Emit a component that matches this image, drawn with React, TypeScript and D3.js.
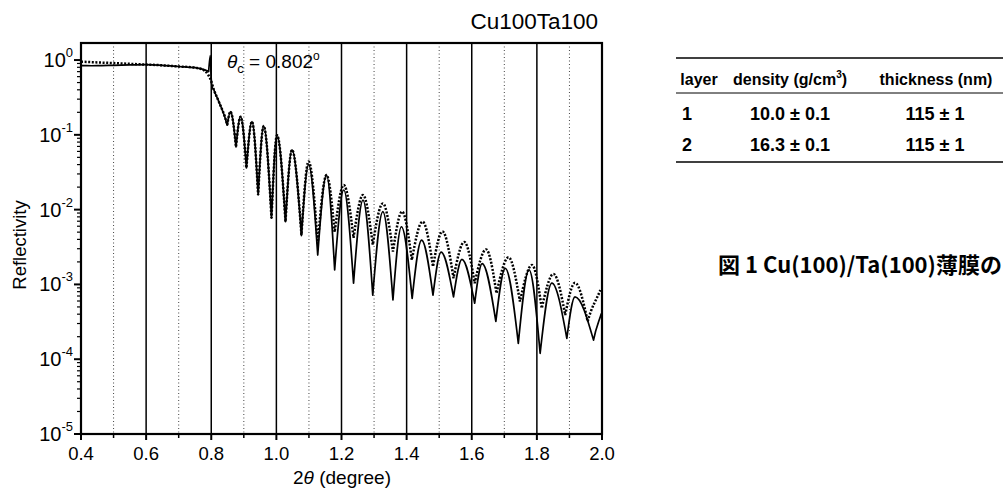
import React from "react";
import * as d3 from "d3";

// reflectivity curve of the Cu/Ta film
const fitAngle = [
  0.4, 0.45, 0.5, 0.55, 0.6, 0.65, 0.7, 0.75, 0.78, 0.79, 0.8, 0.808, 0.823,
  0.849, 0.859, 0.876, 0.89, 0.908, 0.925, 0.944, 0.961, 0.985, 1.002, 1.028,
  1.048, 1.077, 1.099, 1.127, 1.154, 1.179, 1.207, 1.237, 1.266, 1.296, 1.327,
  1.358, 1.386, 1.416, 1.449, 1.481, 1.51, 1.544, 1.577, 1.609, 1.644, 1.676,
  1.713, 1.748, 1.785, 1.815, 1.851, 1.887, 1.917, 1.956, 1.995,
];
const fitR = [
  0.95, 0.93, 0.91, 0.89, 0.87, 0.85, 0.82, 0.79, 0.72, 0.64, 0.52, 0.4, 0.28,
  0.135, 0.204, 0.069, 0.175, 0.036, 0.15, 0.0157, 0.131, 0.0077, 0.099, 0.0069,
  0.063, 0.0046, 0.044, 0.0035, 0.029, 0.005, 0.0213, 0.0042, 0.0157, 0.0034,
  0.0121, 0.00275, 0.0094, 0.00212, 0.0069, 0.00173, 0.0051, 0.00121, 0.0037,
  0.00104, 0.00294, 0.00076, 0.0023, 0.00059, 0.00182, 0.00048, 0.00138,
  0.00039, 0.00105, 0.00032, 0.00084,
];

const measAngle = [
  0.4, 0.45, 0.5, 0.55, 0.6, 0.65, 0.7, 0.75, 0.78, 0.792, 0.797, 0.8, 0.808,
  0.823, 0.849, 0.859, 0.876, 0.89, 0.908, 0.925, 0.944, 0.961, 0.985, 1.002,
  1.028, 1.048, 1.077, 1.099, 1.127, 1.154, 1.179, 1.207, 1.237, 1.266, 1.296,
  1.327, 1.358, 1.384, 1.417, 1.446, 1.481, 1.506, 1.544, 1.57, 1.609, 1.632,
  1.674, 1.703, 1.743, 1.776, 1.81, 1.846, 1.892, 1.917, 1.974, 1.998,
];
const measR = [
  0.84, 0.84, 0.85, 0.86, 0.87, 0.85, 0.82, 0.79, 0.74, 0.7, 1.15, 0.55, 0.4,
  0.28, 0.135, 0.204, 0.069, 0.175, 0.036, 0.15, 0.0157, 0.131, 0.0077, 0.099,
  0.0069, 0.063, 0.0045, 0.04, 0.00247, 0.029, 0.00156, 0.0183, 0.00104, 0.0134,
  0.00072, 0.0094, 0.00062, 0.0059, 0.00065, 0.0039, 0.00072, 0.0027, 0.00068,
  0.00216, 0.00056, 0.0019, 0.00032, 0.00164, 0.000163, 0.00156, 0.00012,
  0.00104, 0.00019, 0.00068, 0.00018, 0.00041,
];

const xMajor = [0.4, 0.6, 0.8, 1.0, 1.2, 1.4, 1.6, 1.8, 2.0];
const xMinor = [0.5, 0.7, 0.9, 1.1, 1.3, 1.5, 1.7, 1.9];
const decades = [-5, -4, -3, -2, -1, 0];

const tableHead = ["layer", "density (g/cm", "thickness (nm)"];
const tableRows = [
  ["1", "10.0 \u00b1 0.1", "115 \u00b1 1"],
  ["2", "16.3 \u00b1 0.1", "115 \u00b1 1"],
];

const font = "'Liberation Sans', Arial, Helvetica, sans-serif";

// fringe path: rounded maxima, sharp minima (as the log-scale fringes look)
function fringePath(pts: [number, number][]) {
  const n = pts.length;
  const slope = (i: number, j: number) => (pts[j][1] - pts[i][1]) / (pts[j][0] - pts[i][0]);
  const kind = (i: number) => {
    if (i === 0 || i === n - 1) return "end";
    const yy = pts[i][1], a = pts[i - 1][1], b = pts[i + 1][1];
    if (yy < a && yy < b) return "max";
    if (yy > a && yy > b) return "min";
    return "mid";
  };
  const p = d3.path();
  p.moveTo(pts[0][0], pts[0][1]);
  for (let i = 0; i < n - 1; i++) {
    const A = pts[i], B = pts[i + 1];
    const dx = B[0] - A[0];
    const s = slope(i, i + 1);
    const ka = kind(i), kb = kind(i + 1);
    const mA = ka === "max" ? 0 : ka === "min" ? 1.5 * s : ka === "end" ? s : (slope(i - 1, i) + s) / 2;
    const mB = kb === "max" ? 0 : kb === "min" ? 1.5 * s : kb === "end" ? s : (s + slope(i + 1, i + 2)) / 2;
    p.bezierCurveTo(A[0] + dx / 3, A[1] + (mA * dx) / 3, B[0] - dx / 3, B[1] - (mB * dx) / 3, B[0], B[1]);
  }
  return p.toString();
}

const App = () => {
  const left = 81, right = 602, top = 43, bottom = 434;

  const x = d3.scaleLinear().domain([0.4, 2.0]).range([left, right]);
  const y = d3.scaleLog().domain([1e-5, 1.69]).range([bottom, top]);

  const fitPath = fringePath(fitAngle.map((a, i) => [x(a), y(fitR[i])]));
  const measPath = fringePath(measAngle.map((a, i) => [x(a), y(measR[i])]));

  const yMinor: number[] = [];
  decades.forEach((d) => {
    for (let k = 2; k <= 9; k++) {
      const v = k * Math.pow(10, d);
      if (v < 1.69) yMinor.push(v);
    }
  });

  return (
    <div style={{ position: "absolute", left: 0, top: 0 }}>
      <svg width={1005} height={489} style={{ display: "block", background: "#fff" }} fontFamily={font}>
        <defs>
          <clipPath id="plot">
            <rect x={left} y={top} width={right - left} height={bottom - top} />
          </clipPath>
        </defs>

        {/* grid */}
        {xMinor.map((v) => (
          <line key={"gm" + v} x1={x(v)} x2={x(v)} y1={top} y2={bottom}
            stroke="#444" strokeWidth={1} strokeDasharray="1,2.5" />
        ))}
        {xMajor.slice(1, -1).map((v) => (
          <line key={"gM" + v} x1={x(v)} x2={x(v)} y1={top} y2={bottom}
            stroke="#000" strokeWidth={1.5} />
        ))}

        {/* curves */}
        <g clipPath="url(#plot)">
          <path d={measPath} fill="none" stroke="#000" strokeWidth={1.7} strokeLinejoin="round" />
          <path d={fitPath} fill="none" stroke="#000" strokeWidth={2.5} strokeDasharray="2,1.6" />
        </g>

        {/* frame */}
        <rect x={left} y={top} width={right - left} height={bottom - top}
          fill="none" stroke="#000" strokeWidth={2.2} />

        {/* x ticks */}
        {xMajor.map((v) => (
          <g key={"xt" + v}>
            <line x1={x(v)} x2={x(v)} y1={bottom} y2={bottom + 6} stroke="#000" strokeWidth={2} />
            <text x={x(v)} y={460} textAnchor="middle" fontSize={18.5}>{v.toFixed(1)}</text>
          </g>
        ))}
        {xMinor.map((v) => (
          <line key={"xm" + v} x1={x(v)} x2={x(v)} y1={bottom} y2={bottom + 4} stroke="#000" strokeWidth={1.5} />
        ))}

        {/* y ticks */}
        {decades.map((d) => (
          <g key={"yt" + d}>
            <line x1={left - 7} x2={left} y1={y(Math.pow(10, d))} y2={y(Math.pow(10, d))} stroke="#000" strokeWidth={2} />
            <text x={73} y={y(Math.pow(10, d)) + 7} textAnchor="end" fontSize={20}>
              10<tspan dy={-10} fontSize={13}>{d}</tspan>
            </text>
          </g>
        ))}
        {yMinor.map((v) => (
          <line key={"ym" + v} x1={left - 4} x2={left} y1={y(v)} y2={y(v)} stroke="#000" strokeWidth={1.2} />
        ))}

        {/* axis titles */}
        <text transform={`translate(26,245) rotate(-90)`} textAnchor="middle" fontSize={18.5}>
          Reflectivity
        </text>
        <text x={342} y={484} textAnchor="middle" fontSize={19}>
          2<tspan fontStyle="italic">{"\u03b8"}</tspan> (degree)
        </text>
        <text x={598} y={29} textAnchor="end" fontSize={22.5}>Cu100Ta100</text>

        {/* critical angle */}
        <text x={227} y={68} fontSize={19}>
          <tspan fontStyle="italic">{"\u03b8"}</tspan>
          <tspan dy={5} fontSize={13}>c</tspan>
          <tspan dy={-5}>{" = 0.802"}</tspan>
          <tspan dy={-8} fontSize={12}>o</tspan>
        </text>

        {/* parameter table */}
        <g>
          <line x1={676} x2={1003} y1={58} y2={58} stroke="#000" strokeWidth={1.5} />
          <line x1={676} x2={1003} y1={93} y2={93} stroke="#000" strokeWidth={1} />
          <line x1={676} x2={1003} y1={162} y2={162} stroke="#000" strokeWidth={1.5} />
          <g fontSize={16} fontWeight="600">
            <text x={699} y={85} textAnchor="middle">{tableHead[0]}</text>
            <text x={790} y={85} textAnchor="middle">
              {tableHead[1]}<tspan dy={-7} fontSize={10}>3</tspan><tspan dy={7}>)</tspan>
            </text>
            <text x={936} y={85} textAnchor="middle">{tableHead[2]}</text>
          </g>
          {tableRows.map((r, i) => (
            <g key={"row" + i} fontSize={18} fontWeight="600">
              <text x={687} y={120 + i * 31} textAnchor="middle">{r[0]}</text>
              <text x={790} y={120 + i * 31} textAnchor="middle">{r[1]}</text>
              <text x={935} y={120 + i * 31} textAnchor="middle">{r[2]}</text>
            </g>
          ))}
        </g>

        {/* caption */}
        <text x={718} y={273} fontSize={22} fontWeight="bold"
          fontFamily="'Noto Sans CJK JP', 'Noto Sans', sans-serif">
          図 1 Cu(100)/Ta(100)薄膜の
        </text>
      </svg>
    </div>
  );
};

export default App;
